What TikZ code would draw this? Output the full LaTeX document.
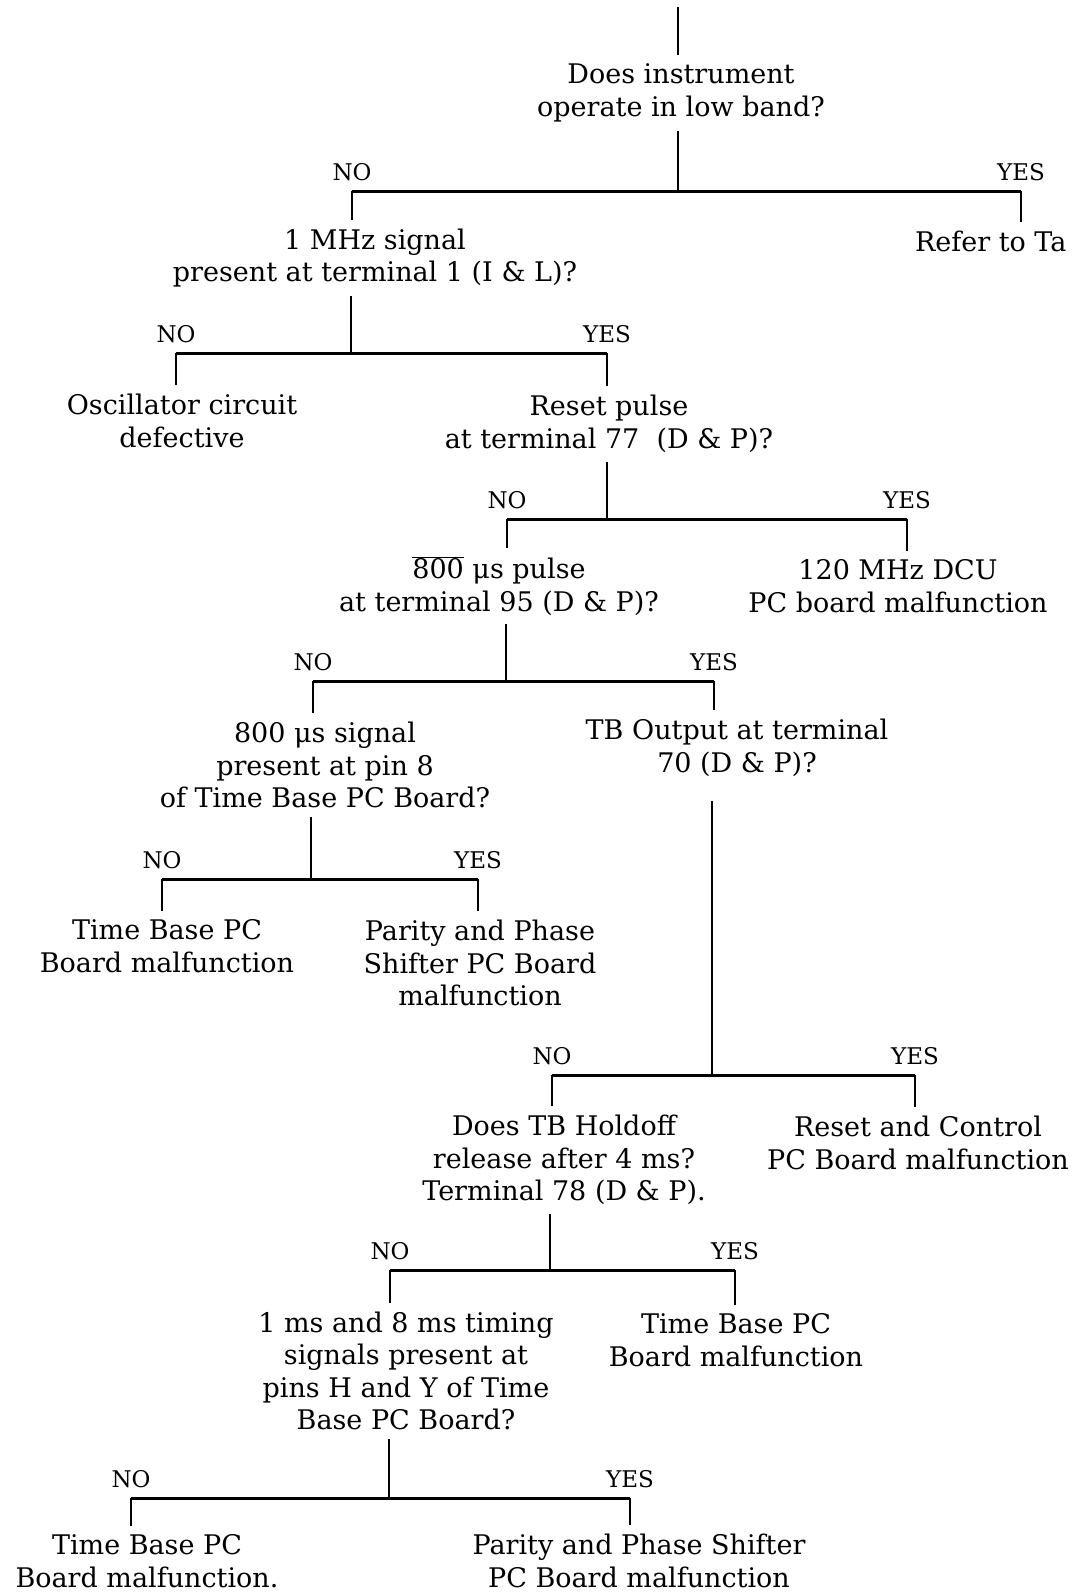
\documentclass[tikz,border=0pt]{standalone}
\usepackage{fontspec}
\setmainfont{DejaVu Serif}
\begin{document}
\begin{tikzpicture}[x=1pt,y=-1pt,
  txt/.style={align=center, font=\fontsize{27}{32.5}\selectfont, inner xsep=2pt, inner ysep=9pt, outer sep=0pt},
  lbl/.style={font=\fontsize{23}{24}\selectfont, inner sep=0pt, anchor=base},
  stem/.style={line width=1.6pt},
  bar/.style={line width=3pt}]
\useasboundingbox (0,0) rectangle (1079,1592);
% nodes
\node[txt] (q1) at (681,93) {Does instrument\\operate in low band?};
\node[txt] (n2) at (375,258) {1 MHz signal\\present at terminal 1 (I \& L)?};
\node[txt,anchor=west] (r1) at (913,241) {Refer to Ta};
\node[txt] (n3) at (182,421) {Oscillator circuit\\defective};
\node[txt] (n4) at (609,424) {Reset pulse\\at terminal 77\ \ (D \& P)?};
\node[txt] (n5) at (499,586) {$\overline{\hbox{800}}$ μs pulse\\at terminal 95 (D \& P)?};
\node[txt] (n6) at (898,586) {120 MHz DCU\\PC board malfunction};
\node[txt] (n7) at (325,765) {800 μs signal\\present at pin 8\\of Time Base PC Board?};
\node[txt] (n8) at (737,748) {TB Output at terminal\\70 (D \& P)?};
\node[txt] (n9) at (167,946) {Time Base PC\\Board malfunction};
\node[txt] (n10) at (480,963) {Parity and Phase\\Shifter PC Board\\malfunction};
\node[txt] (n11) at (564,1160) {Does TB Holdoff\\release after 4 ms?\\Terminal 78 (D \& P).};
\node[txt] (n12) at (918,1143) {Reset and Control\\PC Board malfunction};
\node[txt] (n13) at (406,1371) {1 ms and 8 ms timing\\signals present at\\pins H and Y of Time\\Base PC Board?};
\node[txt] (n14) at (736,1340) {Time Base PC\\Board malfunction};
\node[txt] (n15) at (147,1561) {Time Base PC\\Board malfunction.};
\node[txt] (n16) at (639,1561) {Parity and Phase Shifter\\PC Board malfunction};
% junctions and bar ends
\coordinate (top) at (678,7);
\coordinate (j1) at (678,191); \coordinate (b1l) at (352,191); \coordinate (b1r) at (1021,191);
\coordinate (j2) at (351,353); \coordinate (b2l) at (176,353); \coordinate (b2r) at (607,353);
\coordinate (j3) at (607,519); \coordinate (b3l) at (507,519); \coordinate (b3r) at (907,519);
\coordinate (j4) at (506,681); \coordinate (b4l) at (313,681); \coordinate (b4r) at (714,681);
\coordinate (j5) at (311,879); \coordinate (b5l) at (162,879); \coordinate (b5r) at (478,879);
\coordinate (j6) at (712,1075); \coordinate (b6l) at (552,1075); \coordinate (b6r) at (915,1075);
\coordinate (j7) at (550,1270); \coordinate (b7l) at (390,1270); \coordinate (b7r) at (735,1270);
\coordinate (j8) at (389,1498); \coordinate (b8l) at (131,1498); \coordinate (b8r) at (630,1498);
% connectors
\draw[stem] (top) -- (top |- q1.north);
\draw[stem] (q1.south -| j1) -- (j1);
\draw[bar] (b1l) -- (b1r);
\draw[stem] (b1l) -- (b1l |- n2.north);
\draw[stem] (b1r) -- (b1r |- r1.north);
\draw[stem] (n2.south -| j2) -- (j2);
\draw[bar] (b2l) -- (b2r);
\draw[stem] (b2l) -- (b2l |- n3.north);
\draw[stem] (b2r) -- (b2r |- n4.north);
\draw[stem] (n4.south -| j3) -- (j3);
\draw[bar] (b3l) -- (b3r);
\draw[stem] (b3l) -- (b3l |- n5.north);
\draw[stem] (b3r) -- (b3r |- n6.north);
\draw[stem] (n5.south -| j4) -- (j4);
\draw[bar] (b4l) -- (b4r);
\draw[stem] (b4l) -- (b4l |- n7.north);
\draw[stem] (b4r) -- (b4r |- n8.north);
\draw[stem] (n7.south -| j5) -- (j5);
\draw[bar] (b5l) -- (b5r);
\draw[stem] (b5l) -- (b5l |- n9.north);
\draw[stem] (b5r) -- (b5r |- n10.north);
\draw[stem] ([yshift=-15pt]n8.south -| j6) -- (j6);
\draw[bar] (b6l) -- (b6r);
\draw[stem] (b6l) -- (b6l |- n11.north);
\draw[stem] (b6r) -- (b6r |- n12.north);
\draw[stem] (n11.south -| j7) -- (j7);
\draw[bar] (b7l) -- (b7r);
\draw[stem] (b7l) -- (b7l |- n13.north);
\draw[stem] (b7r) -- (b7r |- n14.north);
\draw[stem] (n13.south -| j8) -- (j8);
\draw[bar] (b8l) -- (b8r);
\draw[stem] (b8l) -- (b8l |- n15.north);
\draw[stem] (b8r) -- (b8r |- n16.north);
% labels
\foreach \i in {1,...,8}{
  \node[lbl] (no\i) at ([yshift=11pt]b\i l) {NO};
  \node[lbl] (yes\i) at ([yshift=11pt]b\i r) {YES};
}
\end{tikzpicture}
\end{document}
